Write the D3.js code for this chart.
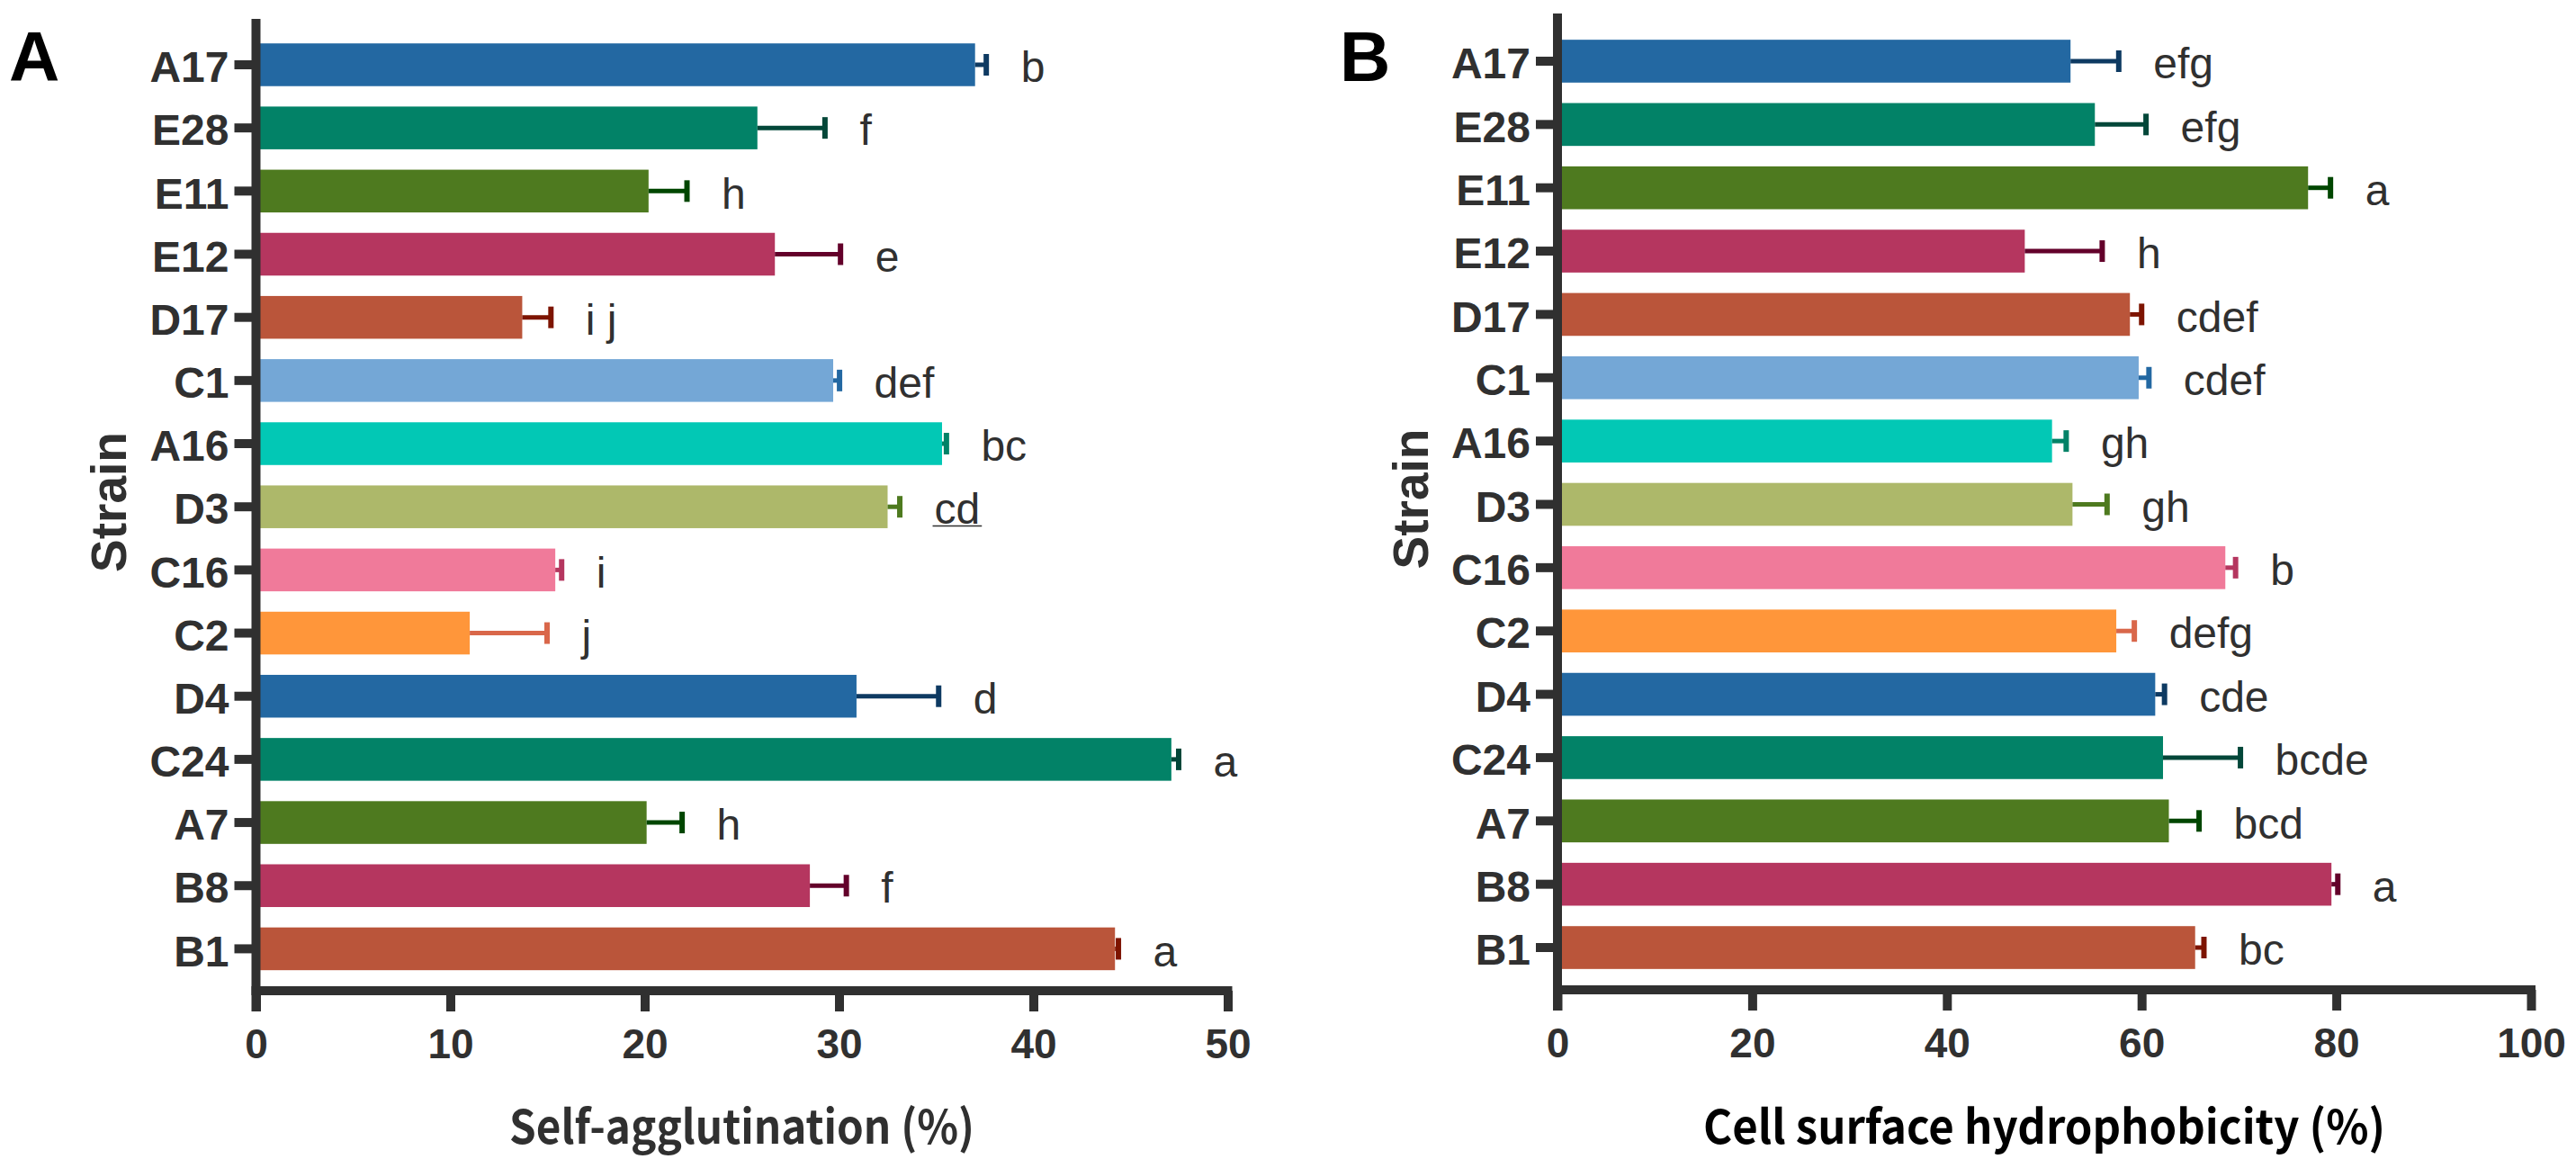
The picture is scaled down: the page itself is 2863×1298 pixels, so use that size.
<!DOCTYPE html>
<html>
<head>
<meta charset="utf-8">
<script src="https://cdn.jsdelivr.net/npm/d3@7/dist/d3.min.js"></script>
<style>
  html, body { margin: 0; padding: 0; background: #fff; }
  svg { display: block; }
</style>
</head>
<body>
<svg id="chart" width="2863" height="1298"></svg>
<script>
// ---------------- DATA ----------------
const strains = ["A17","E28","E11","E12","D17","C1","A16","D3","C16","C2","D4","C24","A7","B8","B1"];

const selfAgg   = [37.0, 25.8, 20.2, 26.7, 13.7, 29.7, 35.3, 32.5, 15.4, 11.0, 30.9, 47.1, 20.1, 28.5, 44.2];
const selfAggSD = [0.6, 3.5, 2.0, 3.4, 1.5, 0.35, 0.25, 0.65, 0.35, 4.0, 4.25, 0.4, 1.85, 1.9, 0.2];
const selfAggLetters = ["b","f","h","e","i j","def","bc","cd","i","j","d","a","h","f","a"];

const hydro   = [52.7, 55.2, 77.1, 48.0, 58.8, 59.7, 50.8, 52.9, 68.6, 57.4, 61.4, 62.2, 62.8, 79.5, 65.5];
const hydroSD = [5.0, 5.3, 2.35, 8.0, 1.25, 1.1, 1.5, 3.6, 1.1, 1.9, 1.0, 8.0, 3.15, 0.7, 0.95];
const hydroLetters = ["efg","efg","a","h","cdef","cdef","gh","gh","b","defg","cde","bcde","bcd","a","bc"];

const barColors = ["#2368A2","#028267","#4E7A1F","#B5365F","#BA553A","#74A7D6","#02C8B5","#ADB86A","#F07A9A","#FF963A",
                   "#2368A2","#028267","#4E7A1F","#B5365F","#BA553A"];
const errColors = ["#0E3A62","#034739","#004600","#63002A","#7D1400","#2368A2","#028267","#4E7A1F","#B5365F","#D9674A",
                   "#0E3A62","#034739","#004600","#63002A","#7D1400"];

const ticksA = [0, 10, 20, 30, 40, 50];
const ticksB = [0, 20, 40, 60, 80, 100];

// ---------------- DRAW ----------------
const svg = d3.select("#chart");
svg.append("rect").attr("width", 2863).attr("height", 1298).attr("fill", "#fff");

const INK = "#303030";
const tickFont = "'Liberation Sans', Arial, Helvetica, sans-serif";
const titleFont = "'Noto Sans CJK JP', 'Noto Sans', sans-serif";

function panel(cfg) {
  const g = svg.append("g");
  const x = d3.scaleLinear().domain([0, cfg.max]).range([cfg.left, cfg.right]);
  const y = d3.scaleBand().domain(strains).range([cfg.bandTop, cfg.bandBottom])
              .paddingInner(0.323).paddingOuter(0.1615);
  const rows = strains.map((s, i) => ({ s, v: cfg.values[i], sd: cfg.sd[i], l: cfg.letters[i], i }));
  const xAxisY = cfg.xAxisY;

  // bars
  g.selectAll("rect.bar").data(rows).join("rect")
    .attr("class", "bar")
    .attr("x", x(0))
    .attr("y", d => y(d.s))
    .attr("width", d => x(d.v) - x(0))
    .attr("height", y.bandwidth())
    .attr("fill", d => barColors[d.i]);

  // error bars
  const eg = g.selectAll("g.err").data(rows).join("g").attr("class", "err");
  eg.append("line")
    .attr("x1", d => x(d.v)).attr("x2", d => x(d.v + d.sd))
    .attr("y1", d => y(d.s) + y.bandwidth() / 2).attr("y2", d => y(d.s) + y.bandwidth() / 2)
    .attr("stroke", d => errColors[d.i]).attr("stroke-width", 5);
  eg.append("line")
    .attr("x1", d => x(d.v + d.sd) - 0.5).attr("x2", d => x(d.v + d.sd) - 0.5)
    .attr("y1", d => y(d.s) + y.bandwidth() / 2 - 12).attr("y2", d => y(d.s) + y.bandwidth() / 2 + 12)
    .attr("stroke", d => errColors[d.i]).attr("stroke-width", 6);

  // significance letters
  const lt = g.selectAll("text.letter").data(rows).join("text")
    .attr("class", "letter")
    .attr("x", d => x(d.v + d.sd) + 38)
    .attr("y", d => y(d.s) + y.bandwidth() / 2)
    .attr("dy", "0.4em")
    .attr("font-family", tickFont)
    .attr("font-size", 48)
    .attr("fill", INK)
    .text(d => d.l);
  // thin underline seen under "cd" in the reference
  lt.filter(d => d.l === "cd").each(function(d) {
    const w = this.getComputedTextLength();
    const bx = x(d.v + d.sd) + 38;
    const by = y(d.s) + y.bandwidth() / 2 + 0.4 * 48 + 2;
    g.append("line").attr("x1", bx - 2).attr("x2", bx + w + 2)
      .attr("y1", by).attr("y2", by).attr("stroke", INK).attr("stroke-width", 1.5);
  });

  // y axis
  const ya = g.append("g").attr("transform", `translate(${x(0)},0)`)
    .call(d3.axisLeft(y).tickSize(24).tickPadding(6));
  ya.select(".domain").remove();
  ya.selectAll(".tick line").attr("stroke", INK).attr("stroke-width", 10);
  ya.selectAll(".tick text")
    .attr("dy", "0.4em")
    .attr("font-family", tickFont).attr("font-weight", "bold").attr("font-size", 48)
    .attr("fill", INK);
  g.append("line")
    .attr("x1", x(0)).attr("x2", x(0))
    .attr("y1", cfg.axisTop).attr("y2", xAxisY + 23)
    .attr("stroke", INK).attr("stroke-width", 10);

  // x axis
  const xa = g.append("g").attr("transform", `translate(0,${xAxisY})`)
    .call(d3.axisBottom(x).tickValues(cfg.ticks).tickSize(23).tickFormat(d3.format("d")));
  xa.select(".domain").remove();
  xa.selectAll(".tick line").attr("stroke", INK).attr("stroke-width", 10);
  xa.selectAll(".tick text")
    .attr("y", 74.5).attr("dy", 0)
    .attr("font-family", tickFont).attr("font-weight", "bold").attr("font-size", 46)
    .attr("fill", INK);
  g.append("line")
    .attr("x1", x(0) - 5).attr("x2", x(cfg.max) + 5)
    .attr("y1", xAxisY).attr("y2", xAxisY)
    .attr("stroke", INK).attr("stroke-width", 10);

  // axis titles
  g.append("text")
    .attr("x", (x(0) + x(cfg.max)) / 2).attr("y", 1271)
    .attr("text-anchor", "middle")
    .attr("font-family", titleFont).attr("font-weight", "bold").attr("font-size", 52)
    .attr("fill", cfg.titleColor)
    .attr("textLength", cfg.titleLen).attr("lengthAdjust", "spacingAndGlyphs")
    .text(cfg.title);

  g.append("text")
    .attr("transform", `translate(${x(0) - 144.5},${(cfg.axisTop + xAxisY) / 2 - 3}) rotate(-90)`)
    .attr("text-anchor", "middle")
    .attr("font-family", tickFont).attr("font-weight", "bold").attr("font-size", 55)
    .attr("fill", INK)
    .text("Strain");

  // panel letter
  g.append("text")
    .attr("x", cfg.labelX).attr("y", 90)
    .attr("font-family", tickFont).attr("font-weight", "bold").attr("font-size", 78)
    .attr("fill", "#000")
    .text(cfg.label);
}

panel({
  values: selfAgg, sd: selfAggSD, letters: selfAggLetters, ticks: ticksA, max: 50,
  left: 284.5, right: 1364.5, bandTop: 36.9, bandBottom: 1089.5, axisTop: 21, xAxisY: 1101,
  title: "Self-agglutination (%)", titleLen: 517, titleColor: INK, label: "A", labelX: 10
});

panel({
  values: hydro, sd: hydroSD, letters: hydroLetters, ticks: ticksB, max: 100,
  left: 1731, right: 2813, bandTop: 32.8, bandBottom: 1088.2, axisTop: 15, xAxisY: 1100,
  title: "Cell surface hydrophobicity (%)", titleLen: 758, titleColor: "#000", label: "B", labelX: 1489
});
</script>
</body>
</html>
